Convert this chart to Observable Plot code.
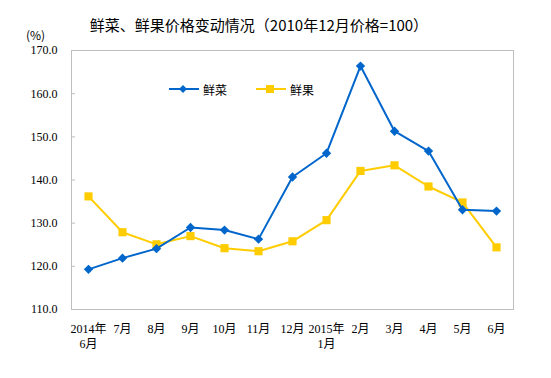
<!DOCTYPE html>
<html><head><meta charset="utf-8">
<script src="https://cdn.jsdelivr.net/npm/d3@7"></script>
<script src="https://cdn.jsdelivr.net/npm/@observablehq/plot@0.6"></script>
<style>
body{margin:0;background:#fff;}
#wrap{position:relative;width:551px;height:378px;font-family:"Liberation Serif","Noto Sans CJK SC",serif;}
#title{position:absolute;left:0;width:518px;top:14px;text-align:center;font-family:"Noto Sans CJK SC",sans-serif;font-size:15px;color:#000;}
#unit{position:absolute;left:26px;top:26px;font-size:12px;font-family:"Noto Sans CJK SC",sans-serif;}
#legend{position:absolute;left:168px;top:80px;font-family:"Noto Sans CJK SC",sans-serif;font-size:12px;display:flex;align-items:center;}
#legend span{margin-right:28px;display:flex;align-items:center;}
</style></head>
<body><div id="wrap">
<div id="title">鲜菜、鲜果价格变动情况（2010年12月价格=100）</div>
<div id="unit">(%)</div>
<div id="legend"></div>
</div>
<script>
const months = ["2014年\n6月","7月","8月","9月","10月","11月","12月","2015年\n1月","2月","3月","4月","5月","6月"];
const vegetables = [119.3,121.9,124.1,129.0,128.4,126.3,140.7,146.2,166.4,151.3,146.7,133.1,132.8];
const fruits = [136.2,127.9,125.1,127.0,124.2,123.5,125.8,130.7,142.1,143.4,138.5,134.8,124.4];
const yTicks = [110,120,130,140,150,160,170];
const seriesNames = ["鲜菜","鲜果"];
const colors = ["#0066cc","#ffcc00"];

const rows = [];
months.forEach((m,i)=>{
  rows.push({month:m, value:vegetables[i], series:seriesNames[0]});
  rows.push({month:m, value:fruits[i], series:seriesNames[1]});
});
const veg = rows.filter(d=>d.series===seriesNames[0]);
const fru = rows.filter(d=>d.series===seriesNames[1]);

const chart = Plot.plot({
  width:551, height:378,
  marginLeft:71, marginRight:38, marginTop:50, marginBottom:69,
  style:{fontFamily:'"Liberation Serif","Noto Sans CJK SC",serif', fontSize:"12px", color:"#000", background:"transparent"},
  x:{type:"point", domain:months, padding:0.5},
  y:{domain:[110,170]},
  marks:[
    Plot.frame({stroke:"#bfbfbf"}),
    Plot.axisY({ticks:yTicks, tickSize:0, tickPadding:14, tickFormat:d3.format(".1f"), label:null}),
    Plot.axisY({ticks:yTicks, tickSize:-4, tickFormat:()=>"", stroke:"#bfbfbf", label:null}),
    Plot.axisX({tickSize:0, tickPadding:12, label:null, lineHeight:1.3}),
    Plot.line(fru,{x:"month", y:"value", stroke:colors[1], strokeWidth:2}),
    Plot.dot(fru,{x:"month", y:"value", symbol:"square", fill:colors[1], r:4.6}),
    Plot.line(veg,{x:"month", y:"value", stroke:colors[0], strokeWidth:2}),
    Plot.dot(veg,{x:"month", y:"value", symbol:"diamond2", fill:colors[0], stroke:"none", r:4.2})
  ]
});
chart.style.position="absolute"; chart.style.left="0"; chart.style.top="0";
const wrap = document.getElementById("wrap");
wrap.insertBefore(chart, wrap.firstChild);

const leg = document.getElementById("legend");
seriesNames.forEach((n,i)=>{
  const s = document.createElement("span");
  const marker = i===0
    ? `<path d="M15,5 L19,9 L15,13 L11,9Z" fill="${colors[0]}"/>`
    : `<rect x="11" y="5" width="8" height="8" fill="${colors[1]}"/>`;
  s.innerHTML = `<svg width="32" height="18"><line x1="1" y1="9" x2="31" y2="9" stroke="${colors[i]}" stroke-width="2"/>${marker}</svg><span style="margin:0 0 0 3px">${n}</span>`;
  leg.appendChild(s);
});
</script>
</body></html>
